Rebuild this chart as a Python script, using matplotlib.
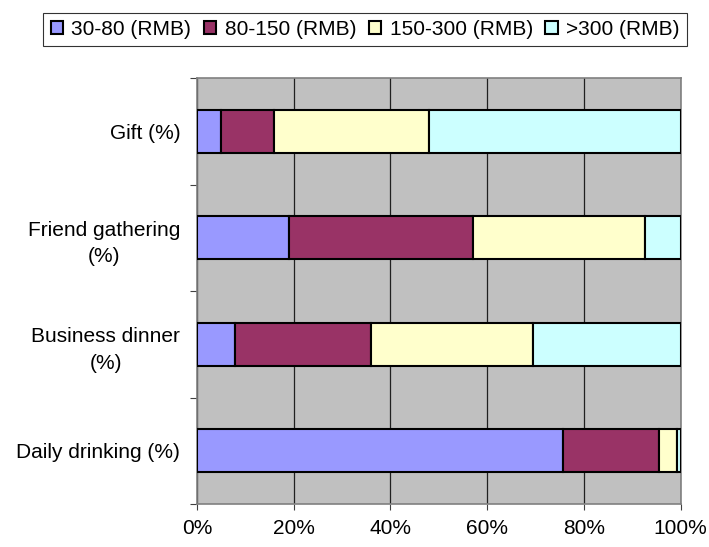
import numpy as np
import matplotlib.pyplot as plt

plt.rcParams['font.family'] = ['Liberation Sans', 'DejaVu Sans']

# categories from bottom to top
categories = ["Daily drinking (%)", "Business dinner\n(%)", "Friend gathering\n(%)", "Gift (%)"]
series_names = ["30-80 (RMB)", "80-150 (RMB)", "150-300 (RMB)", ">300 (RMB)"]
colors = ["#9999FF", "#993366", "#FFFFCC", "#CCFFFF"]

# shares in percent, one list per price band (same order as categories)
band_30_80 = [75.7, 7.8, 19.0, 4.9]
band_80_150 = [19.9, 28.1, 38.0, 11.1]
band_150_300 = [3.7, 33.6, 35.6, 31.9]
band_300_up = [0.7, 30.5, 7.4, 52.1]

bands = [band_30_80, band_80_150, band_150_300, band_300_up]

fig = plt.figure(figsize=(7.09, 5.47), dpi=100)
ax = fig.add_axes([0.2779, 0.0786, 0.682, 0.7788])
ax.set_facecolor("#C0C0C0")

y = np.arange(len(categories))
left = np.zeros(len(categories))
handles = []
for name, vals, col in zip(series_names, bands, colors):
    h = ax.barh(y, vals, left=left, height=0.4, color=col, edgecolor="black",
                linewidth=1.5, label=name, zorder=3)
    handles.append(h)
    left += np.array(vals)

ax.set_xlim(0, 100)
ax.set_ylim(-0.5, len(categories) - 0.5)
ax.set_xticks(np.arange(0, 101, 20))
ax.set_xticklabels(["%d%%" % v for v in range(0, 101, 20)], fontsize=15)
ax.xaxis.grid(True, color="#202020", linewidth=0.9, zorder=1)
ax.set_axisbelow(True)

# category labels in the middle of each slot, ticks on the slot edges
ax.set_yticks(np.arange(-0.5, len(categories), 1))
ax.set_yticklabels([])
ax.set_yticks(y, minor=True)
ax.set_yticklabels(categories, minor=True, fontsize=15, multialignment="center",
                   linespacing=1.5)
ax.tick_params(axis="y", which="minor", length=0, pad=12)
ax.tick_params(axis="y", which="major", length=5, color="#404040")
ax.tick_params(axis="x", length=4.5, pad=6, color="#404040")

for s in ["top", "right", "left", "bottom"]:
    ax.spines[s].set_color("#808080")
    ax.spines[s].set_linewidth(1.2)

leg = fig.legend(handles=handles, loc="upper center", bbox_to_anchor=(0.515, 0.977),
                 ncol=4, fontsize=15, frameon=True, fancybox=False, edgecolor="black",
                 handlelength=0.6, handleheight=0.6, handletextpad=0.4, columnspacing=0.6,
                 borderpad=0.35, borderaxespad=0)
leg.get_frame().set_linewidth(0.8)

fig.savefig("out.png", dpi=100)
